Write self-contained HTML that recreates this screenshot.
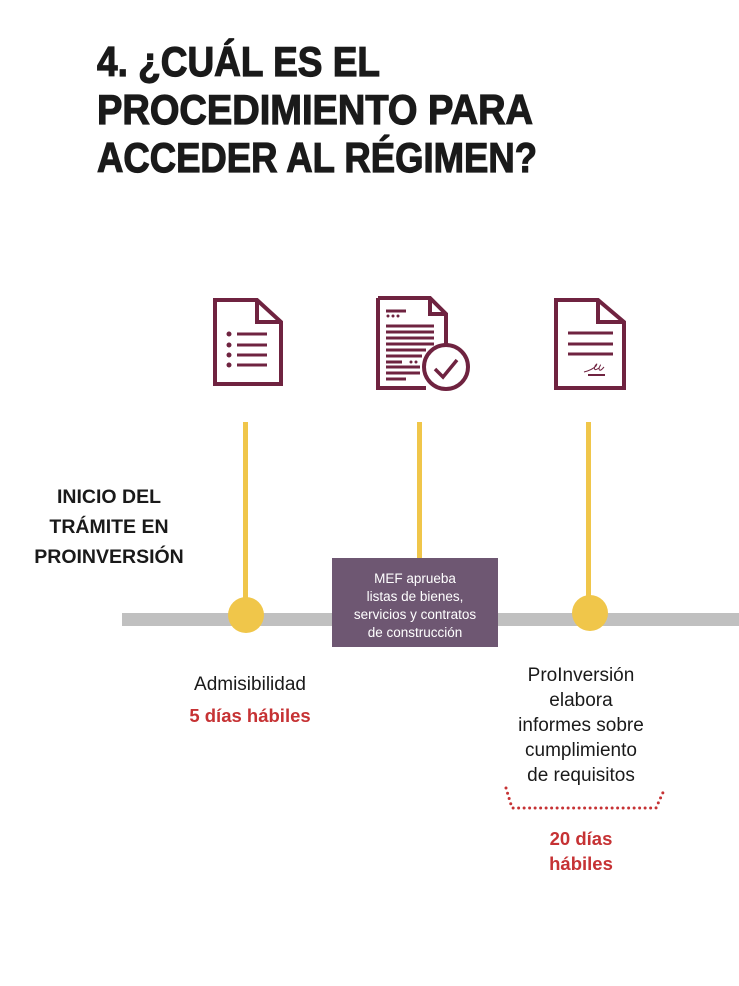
<!DOCTYPE html>
<html><head><meta charset="utf-8"><style>
html,body{margin:0;padding:0;background:#fff;}
svg{display:block;}
</style></head><body>
<svg width="739" height="986" viewBox="0 0 739 986" xmlns="http://www.w3.org/2000/svg" font-family="Liberation Sans, sans-serif">
<rect width="739" height="986" fill="#fff"/>
<g font-weight="bold" font-size="42" fill="#1a1a1a" stroke="#1a1a1a" stroke-width="1.2">
<text x="97" y="76" textLength="283" lengthAdjust="spacingAndGlyphs">4. ¿CUÁL ES EL</text>
<text x="97" y="124" textLength="436" lengthAdjust="spacingAndGlyphs">PROCEDIMIENTO PARA</text>
<text x="97" y="172" textLength="440" lengthAdjust="spacingAndGlyphs">ACCEDER AL RÉGIMEN?</text>
</g>
<!-- icons -->
<g fill="none" stroke="#6f2340" stroke-width="4">
<path d="M215 300 H257 L281 322 V384 H215 Z"/>
<path d="M257 300 V322 H281"/>
<path d="M378 298 H430 L446 314 V346"/><path d="M378 298 V388 H426"/>
<path d="M430 298 V314 H446"/>
<circle cx="446" cy="367" r="22"/>
<path d="M435 369 L443 377 L457 360" stroke-width="3.5"/>
<path d="M556 300 H598 L624 322 V388 H556 Z"/>
<path d="M598 300 V322 H624"/>
</g>
<g stroke="#6f2340" stroke-width="3">
<path d="M237 334 H267 M237 345 H267 M237 355 H267 M237 365 H267"/>
<path d="M386 311 H406 M386 326 H434 M386 332 H434 M386 338 H434 M386 344 H434 M386 350 H426 M386 356 H422 M386 362 H402 M386 367 H420 M386 373 H420 M386 379 H406"/>
<path d="M568 333 H613 M568 344 H613 M568 354 H613"/>
<path d="M588 375 H605" stroke-width="2"/>
</g>
<g fill="#6f2340">
<circle cx="229" cy="334" r="2.5"/><circle cx="229" cy="345" r="2.5"/><circle cx="229" cy="355" r="2.5"/><circle cx="229" cy="365" r="2.5"/>
<circle cx="388" cy="316" r="1.5"/><circle cx="393" cy="316" r="1.5"/><circle cx="398" cy="316" r="1.5"/>
<circle cx="411" cy="362" r="1.5"/><circle cx="416" cy="362" r="1.5"/>
</g>
<path d="M584 372 q8 -2 12 -6 q2 -4 -1 0 q-2 6 4 2 q3 -6 0 0 q0 5 5 -1" fill="none" stroke="#6f2340" stroke-width="1"/>
<!-- timeline -->
<rect x="122" y="613" width="617" height="13" fill="#c0c0c0"/>
<g fill="#f0c64a">
<rect x="243" y="422" width="5" height="192"/>
<rect x="417" y="422" width="5" height="140"/>
<rect x="586" y="422" width="5" height="190"/>
<circle cx="246" cy="615" r="18"/>
<circle cx="590" cy="613" r="18"/>
</g>
<rect x="332" y="558" width="166" height="89" fill="#6e5772"/>
<g fill="#fff" font-size="13.5" text-anchor="middle">
<text x="415" y="583">MEF aprueba</text>
<text x="415" y="601">listas de bienes,</text>
<text x="415" y="619">servicios y contratos</text>
<text x="415" y="637">de construcción</text>
</g>
<g font-weight="bold" font-size="19.5" fill="#1a1a1a" text-anchor="middle">
<text x="109" y="503">INICIO DEL</text>
<text x="109" y="533">TRÁMITE EN</text>
<text x="109" y="563">PROINVERSIÓN</text>
</g>
<g font-size="19" fill="#1a1a1a" text-anchor="middle">
<text x="250" y="690">Admisibilidad</text>
<text x="581" y="681">ProInversión</text>
<text x="581" y="706">elabora</text>
<text x="581" y="731">informes sobre</text>
<text x="581" y="756">cumplimiento</text>
<text x="581" y="781">de requisitos</text>
</g>
<g font-weight="bold" font-size="18.5" fill="#c63234" text-anchor="middle">
<text x="250" y="722">5 días hábiles</text>
<text x="581" y="845">20 días</text>
<text x="581" y="870">hábiles</text>
</g>
<path d="M506 788 L512 808 H656 L665 788" fill="none" stroke="#c63234" stroke-width="3" stroke-linecap="round" stroke-dasharray="0 5.5"/>
</svg>
</body></html>
